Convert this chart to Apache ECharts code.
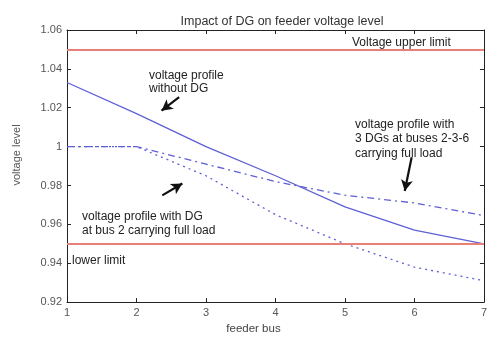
<!DOCTYPE html>
<html><head><meta charset="utf-8">
<script src="https://cdn.jsdelivr.net/npm/echarts@6/dist/echarts.min.js"></script>
<style>html,body{margin:0;padding:0;background:#fff}#c{width:490px;height:340px}</style>
</head><body><div id="c"></div>
<script>
const buses = [1, 2, 3, 4, 5, 6, 7];
const withoutDG = [1.033, 1.017, 1.000, 0.985, 0.969, 0.957, 0.950];
const dgBus2 = [1.000, 1.000, 0.985, 0.965, 0.950, 0.938, 0.931];
const dg3 = [1.000, 1.000, 0.991, 0.982, 0.975, 0.971, 0.9645];
const upperLimit = 1.05;
const lowerLimit = 0.95;
const yTicks = { min: 0.92, max: 1.06, step: 0.02 };
const xTicks = { min: 1, max: 7, step: 1 };

const blue = '#5f5fd6';
const red = '#e88078';
const font = 'Liberation Sans, Arial, sans-serif';
const pair = a => buses.map((b, i) => [b, a[i]]);
const fmt = v => String(parseFloat(v.toFixed(2)));

const chart = echarts.init(document.getElementById('c'), null, { renderer: 'canvas' });
const axisCommon = {
  axisLine: { show: true, onZero: false, lineStyle: { color: '#222', width: 1 } },
  axisTick: { show: true, inside: true, length: 4, lineStyle: { color: '#222' } },
  splitLine: { show: false }
};
function arrow(a, b) {
  return [{ coord: a }, { coord: b }];
}
chart.setOption({
  animation: false,
  title: {
    text: 'Impact of DG on feeder voltage level', left: 277, top: 10, textAlign: 'center',
    textStyle: { fontFamily: font, fontSize: 12.5, fontWeight: 'normal', color: '#333' }
  },
  grid: { left: 67, right: 3, top: 30, bottom: 27 },
  xAxis: [
    Object.assign({}, axisCommon, {
      type: 'value', min: xTicks.min, max: xTicks.max, interval: xTicks.step,
      name: 'feeder bus', nameLocation: 'middle', nameGap: 16,
      nameTextStyle: { fontFamily: font, fontSize: 11.5, color: '#444', padding: [0, 44, 0, 0] },
      axisLabel: { fontFamily: font, fontSize: 11, color: '#555', margin: 5 }
    }),
    Object.assign({}, axisCommon, {
      type: 'value', position: 'top', min: xTicks.min, max: xTicks.max, interval: xTicks.step,
      axisLabel: { show: false }
    })
  ],
  yAxis: [
    Object.assign({}, axisCommon, {
      type: 'value', min: yTicks.min, max: yTicks.max, interval: yTicks.step,
      axisLabel: { fontFamily: font, fontSize: 11, color: '#555', margin: 5, formatter: fmt }
    }),
    Object.assign({}, axisCommon, {
      type: 'value', position: 'right', min: yTicks.min, max: yTicks.max, interval: yTicks.step,
      axisLabel: { show: false }
    })
  ],
  graphic: [
    { type: 'text', x: 17, y: 155, rotation: Math.PI / 2,
      style: { text: 'voltage level', fontFamily: font, fontSize: 11, fill: '#555', align: 'center', verticalAlign: 'middle' } },
    { type: 'text', left: 352, top: 37, style: { text: 'Voltage upper limit', fontFamily: font, fontSize: 12, fill: '#222' } },
    { type: 'text', left: 72, top: 255, style: { text: 'lower limit', fontFamily: font, fontSize: 12, fill: '#222' } },
    { type: 'text', left: 149, top: 69, style: { text: 'voltage profile\nwithout DG', fontFamily: font, fontSize: 12, lineHeight: 13, fill: '#222' } },
    { type: 'text', left: 355, top: 117, style: { text: 'voltage profile with\n3 DGs at buses 2-3-6\ncarrying full load', fontFamily: font, fontSize: 12, lineHeight: 14.5, fill: '#222' } },
    { type: 'text', left: 82, top: 210, style: { text: 'voltage profile with DG\nat bus 2 carrying full load', fontFamily: font, fontSize: 12, lineHeight: 13.5, fill: '#222' } }
  ],
  series: [
    {
      type: 'line', data: pair(withoutDG), symbol: 'none',
      lineStyle: { color: blue, width: 1.3, type: 'solid' },
      markLine: {
        silent: true, symbol: ['none', 'none'], label: { show: false },
        lineStyle: { color: red, width: 1.8, type: 'solid' },
        data: [{ yAxis: upperLimit }, { yAxis: lowerLimit }]
      }
    },
    {
      type: 'line', data: pair(dgBus2), symbol: 'none',
      lineStyle: { color: blue, width: 1.3, type: [2, 4] },
      markLine: {
        silent: true, symbol: ['none', 'arrow'], symbolSize: [9, 11], label: { show: false },
        lineStyle: { color: '#111', width: 2.2, type: 'solid' },
        data: [
          arrow([2.614, 1.0254], [2.36, 1.0185]),
          arrow([2.371, 0.9749], [2.66, 0.981]),
          arrow([5.96, 0.9945], [5.86, 0.9772])
        ]
      }
    },
    {
      type: 'line', data: pair(dg3), symbol: 'none',
      lineStyle: { color: blue, width: 1.3, type: [7, 4, 2, 4] }
    }
  ]
});
</script></body></html>
